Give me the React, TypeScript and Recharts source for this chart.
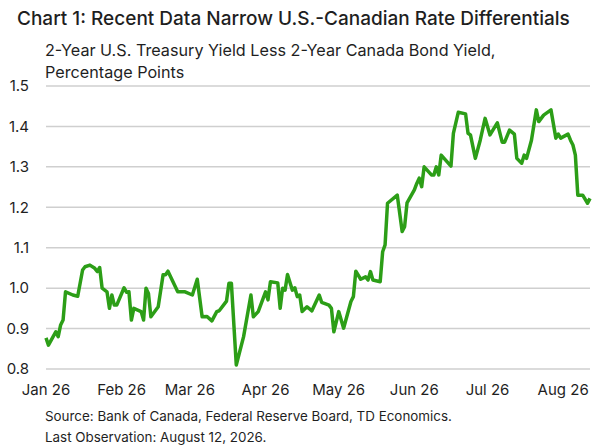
import React from "react";
import { LineChart, Line, XAxis, YAxis, CartesianGrid } from "recharts";

// Observation dates (2026, MM-DD)
const dates: string[] = [
  "01-01","01-02","01-05","01-06","01-07","01-08","01-09","01-12","01-14","01-16",
  "01-17","01-19","01-21","01-22","01-23","01-24","01-26","01-27","01-28","01-29",
  "01-30","02-02","02-03","02-04","02-05","02-06","02-09","02-10","02-11","02-12",
  "02-13","02-16","02-18","02-19","02-20","02-24","02-27","03-02","03-04","03-06",
  "03-08","03-10","03-12","03-13","03-16","03-17","03-18","03-20","03-23","03-26",
  "03-27","03-29","04-01","04-02","04-03","04-06","04-07","04-08","04-09","04-10",
  "04-12","04-13","04-14","04-15","04-16","04-18","04-20","04-23","04-24","04-27",
  "04-28","04-29","05-01","05-03","05-06","05-07","05-08","05-10","05-12","05-13",
  "05-14","05-15","05-18","05-19","05-20","05-21","05-25","05-27","05-28","05-29",
  "06-01","06-02","06-03","06-04","06-05","06-08","06-09","06-10","06-11","06-12",
  "06-16","06-17","06-19","06-22","06-23","06-24","06-26","06-28","06-30","07-02",
  "07-05","07-07","07-08","07-10","07-12","07-13","07-15","07-16","07-17","07-19",
  "07-21","07-22","07-24","07-27","07-29","07-30","07-31","08-03","08-04","08-05",
  "08-06","08-07","08-09","08-11","08-12",
];

// 2-Year U.S. Treasury yield less 2-Year Canada bond yield, percentage points
const spread: number[] = [
  0.877,0.859,0.892,0.880,0.909,0.921,0.991,0.983,0.980,1.045,
  1.053,1.057,1.049,1.041,1.051,1.000,0.991,0.950,0.983,0.958,
  0.958,1.001,0.990,0.991,0.921,0.950,0.942,0.921,1.000,0.987,
  0.929,0.954,1.033,1.033,1.042,0.991,0.991,0.983,1.022,0.929,
  0.930,0.919,0.942,0.944,0.968,1.012,1.012,0.810,0.880,0.983,
  0.929,0.942,0.991,0.971,1.016,1.013,0.950,1.000,0.995,1.034,
  0.995,1.001,0.979,0.983,0.942,0.954,0.944,0.983,0.965,0.958,
  0.950,0.892,0.942,0.901,0.967,0.979,1.042,1.022,1.028,1.020,
  1.041,1.020,1.016,1.090,1.107,1.210,1.230,1.140,1.152,1.211,
  1.243,1.259,1.272,1.251,1.300,1.280,1.280,1.300,1.280,1.329,
  1.302,1.383,1.435,1.431,1.383,1.379,1.321,1.366,1.420,1.379,
  1.409,1.361,1.361,1.391,1.381,1.321,1.309,1.329,1.321,1.366,
  1.441,1.412,1.428,1.441,1.371,1.381,1.371,1.381,1.366,1.354,
  1.329,1.230,1.230,1.210,1.222,
];

const tickLabels: string[] = ["Jan 26","Feb 26","Mar 26","Apr 26","May 26","Jun 26","Jul 26","Aug 26"];
const tickDates: string[] = ["01-01","02-01","03-01","04-01","05-01","06-01","07-01","08-01"];
const yTicks: number[] = [0.8, 0.9, 1.0, 1.1, 1.2, 1.3, 1.4, 1.5];

const dayIndex = (md: string): number => {
  const [m, d] = md.split("-").map(Number);
  return Math.round((Date.UTC(2026, m - 1, d) - Date.UTC(2026, 0, 1)) / 86400000);
};

const data = dates.map((d, i) => ({ day: dayIndex(d), value: spread[i] }));
const xTicks = tickDates.map(dayIndex);
const lastDay = dayIndex(dates[dates.length - 1]);

const FONT = "Inter, 'Noto Sans', sans-serif";
const TEXT = "#1f1f1f";

export default function App() {
  return (
    <div style={{ position: "absolute", left: 0, top: 0, width: 600, height: 448, background: "#fff", fontFamily: FONT, color: TEXT }}>
      <div style={{ position: "absolute", left: 17, top: 7, fontSize: 19, fontWeight: 500, lineHeight: "23px", whiteSpace: "nowrap" }}>
        Chart 1: Recent Data Narrow U.S.-Canadian Rate Differentials
      </div>
      <div style={{ position: "absolute", left: 45, top: 39, fontSize: 16.2, lineHeight: "22px", whiteSpace: "nowrap" }}>
        2-Year U.S. Treasury Yield Less 2-Year Canada Bond Yield,
        <br />
        Percentage Points
      </div>
      <div style={{ position: "absolute", left: 0, top: 0 }}>
        <LineChart width={600} height={448} data={data} margin={{ top: 86, right: 10, bottom: 49, left: 0 }}>
          <CartesianGrid vertical={false} stroke="#cfcfcf" strokeWidth={1.5} />
          <XAxis
            dataKey="day"
            type="number"
            domain={[0, lastDay]}
            ticks={xTicks}
            tickFormatter={(v: number) => tickLabels[xTicks.indexOf(v)] ?? ""}
            axisLine={false}
            tickLine={false}
            tickSize={0}
            tickMargin={15}
            interval={0}
            height={30}
            tick={{ fontSize: 15, fill: TEXT, fontFamily: FONT }}
          />
          <YAxis
            type="number"
            domain={[0.8, 1.5]}
            ticks={yTicks}
            tickFormatter={(v: number) => v.toFixed(1)}
            width={46}
            axisLine={false}
            tickLine={false}
            tickSize={0}
            tickMargin={17}
            interval={0}
            tick={{ fontSize: 15, fill: TEXT, fontFamily: FONT }}
          />
          <Line
            type="linear"
            dataKey="value"
            stroke="#2c9e17"
            strokeWidth={3.5}
            dot={false}
            isAnimationActive={false}
            strokeLinejoin="round"
          />
        </LineChart>
      </div>
      <div style={{ position: "absolute", left: 45, top: 406, fontSize: 13.4, lineHeight: "21px", whiteSpace: "nowrap" }}>
        Source: Bank of Canada, Federal Reserve Board, TD Economics.
        <br />
        Last Observation: August 12, 2026.
      </div>
    </div>
  );
}
